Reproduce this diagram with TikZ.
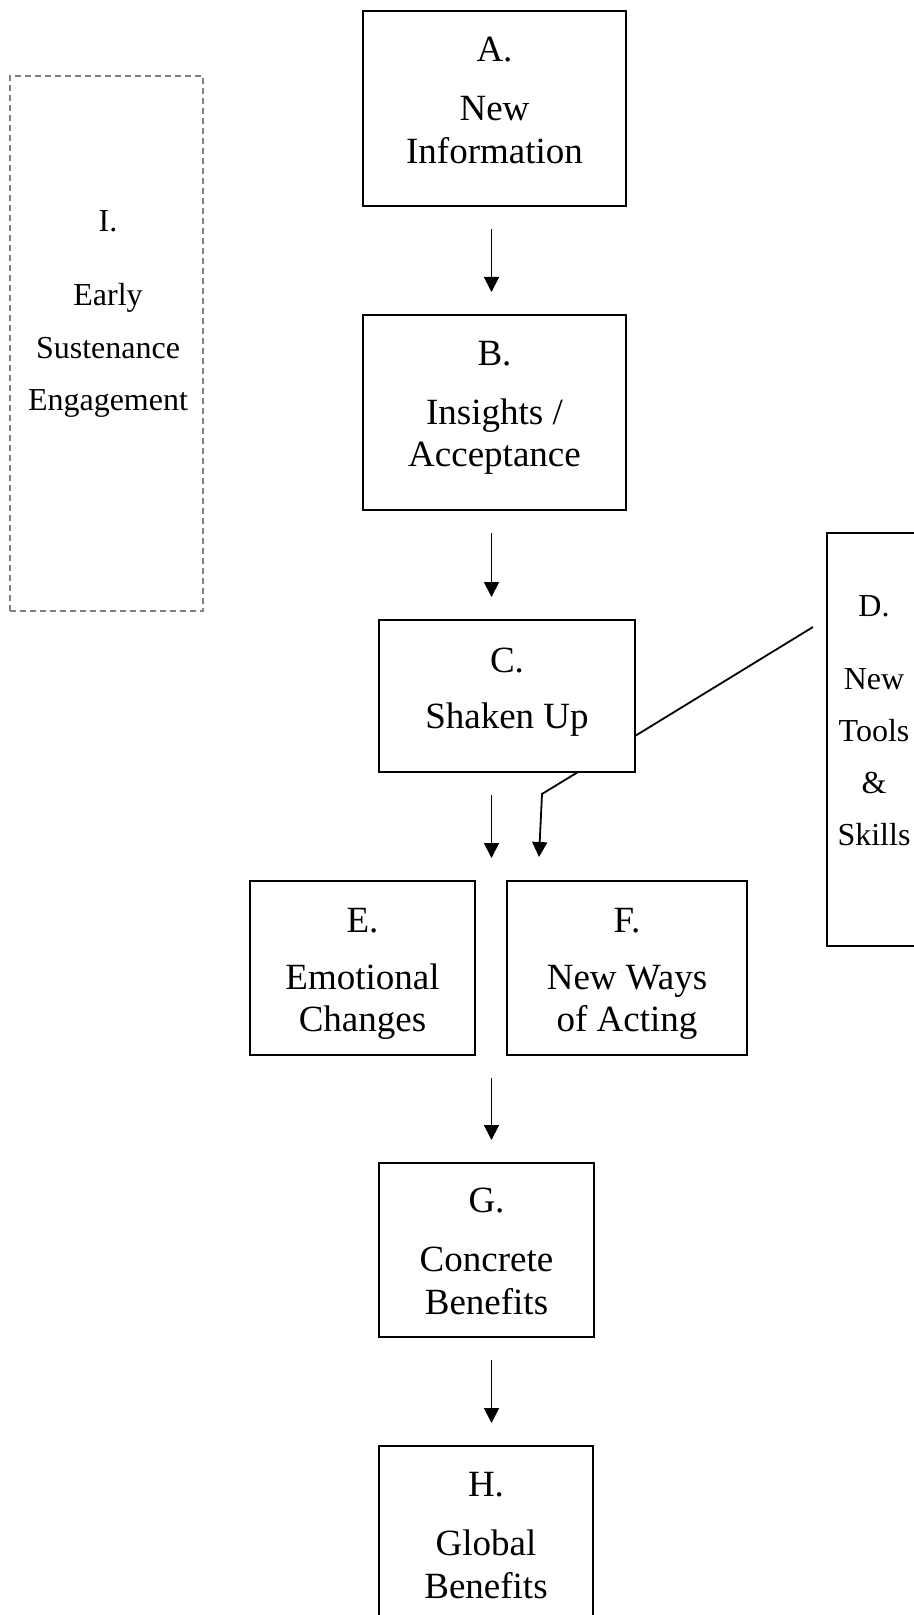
\documentclass[tikz,border=0pt]{standalone}
\usepackage{fontspec}
\setmainfont{Liberation Serif}
\usetikzlibrary{arrows.meta}
\begin{document}
\begin{tikzpicture}[x=0.5pt,y=-0.5pt,
  box/.style={draw=black,line width=1pt,inner sep=0pt,rectangle},
  dbox/.style={draw=black!50,line width=0.8pt,dash pattern=on 3pt off 2pt,inner sep=0pt,rectangle},
  big/.style={anchor=base,inner sep=0pt,font=\fontsize{18.5}{22}\selectfont},
  small/.style={anchor=base,inner sep=0pt,font=\fontsize{16}{19}\selectfont},
  tip/.style={-{Triangle[length=7.5pt,width=7.5pt]}},
  arr/.style={line width=0.9pt,tip,shorten <=11pt,shorten >=11pt},
  conn/.style={line width=0.9pt}]
\useasboundingbox (0,0) rectangle (914,1615);
% boxes
\node[box,minimum width=131.5pt,minimum height=97.5pt] (A) at (494.5,108.5) {};
\node[box,minimum width=131.5pt,minimum height=97.5pt] (B) at (494.5,412.5) {};
\node[box,minimum width=128pt,minimum height=76pt] (C) at (507,696) {};
\node[box,minimum width=47.5pt,minimum height=206.5pt] (D) at (874.5,739.5) {};
\node[box,minimum width=112.5pt,minimum height=87pt] (E) at (362.5,968) {};
\node[box,minimum width=120pt,minimum height=87pt] (F) at (627,968) {};
\node[box,minimum width=107.5pt,minimum height=87pt] (G) at (486.5,1250) {};
\node[box,minimum width=107pt,minimum height=92pt] (H) at (486,1538) {};
\node[dbox,minimum width=96.5pt,minimum height=267.5pt] (I) at (106.5,343.5) {};
% texts
\node[big] (A1) at (494.5,62) {A.};
\node[big] (A2) at (494.5,120.5) {New};
\node[big] (A3) at (494.5,164) {Information};
\node[big] (B1) at (494.5,365.5) {B.};
\node[big] (B2) at (494.5,424) {Insights /};
\node[big] (B3) at (494.5,466.5) {Acceptance};
\node[big] (C1) at (507,672) {C.};
\node[big] (C2) at (507,728) {Shaken Up};
\node[big] (E1) at (362.5,932.5) {E.};
\node[big] (E2) at (362.5,989.5) {Emotional};
\node[big] (E3) at (362.5,1031.5) {Changes};
\node[big] (F1) at (627,932.5) {F.};
\node[big] (F2) at (627,989.5) {New Ways};
\node[big] (F3) at (627,1031.5) {of Acting};
\node[big] (G1) at (486.5,1212.5) {G.};
\node[big] (G2) at (486.5,1271.5) {Concrete};
\node[big] (G3) at (486.5,1314.5) {Benefits};
\node[big] (H1) at (486,1496.5) {H.};
\node[big] (H2) at (486,1555) {Global};
\node[big] (H3) at (486,1598.5) {Benefits};
\node[small] (I1) at (108,232) {I.};
\node[small] (I2) at (108,306) {Early};
\node[small] (I3) at (108,358) {Sustenance};
\node[small] (I4) at (108,410) {Engagement};
\node[small] (D1) at (874,616.5) {D.};
\node[small] (D2) at (874,689.5) {New};
\node[small] (D3) at (874,741) {Tools};
\node[small] (D4) at (874,793) {\&};
\node[small] (D5) at (874,845) {Skills};
% arrows
\coordinate (ax) at (491.5,0);
\draw[arr] (A.south -| ax) -- (B.north -| ax);
\draw[arr] (B.south -| ax) -- (C.north -| ax);
\draw[arr] (C.south -| ax) -- (ax |- E.north);
\draw[arr] (E.south -| ax) -- (G.north -| ax);
\draw[arr] (G.south -| ax) -- (H.north -| ax);
% D connector
\coordinate (ce) at (635,736);
\coordinate (dfree) at (813,627);
\coordinate (cs) at (578,772);
\coordinate (bend) at (542,794);
\coordinate (ftip) at (539,857);
\draw[conn] (ce) -- (dfree);
\draw[conn,tip] (cs) -- (bend) -- (ftip);
\end{tikzpicture}
\end{document}
